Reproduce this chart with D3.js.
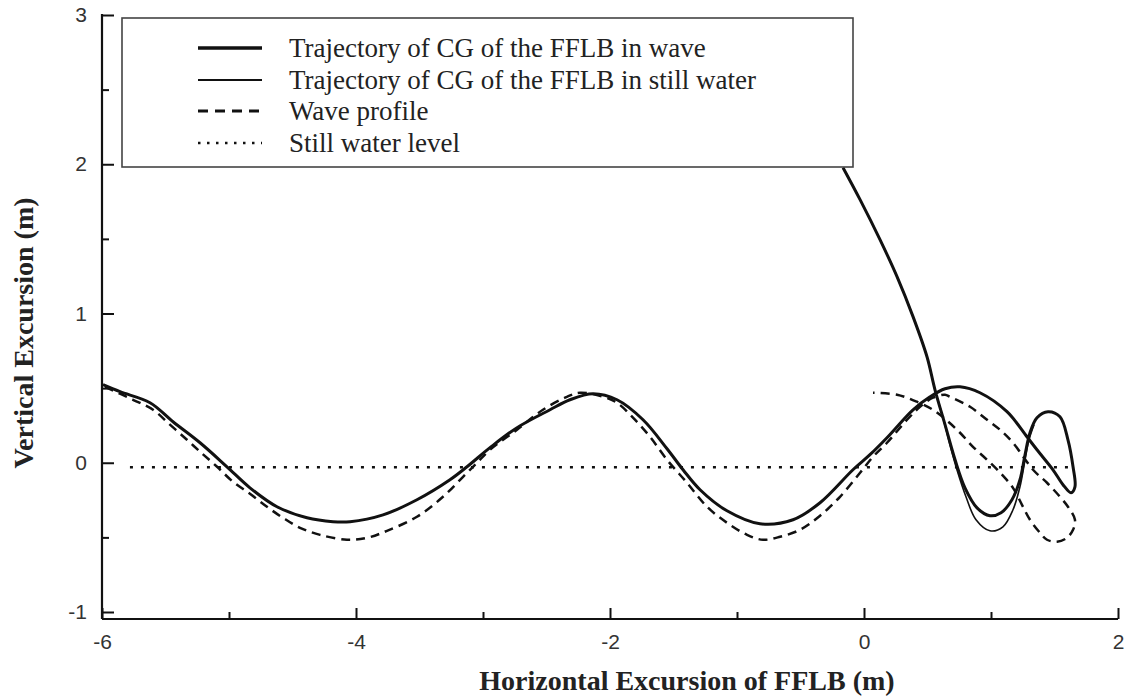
<!DOCTYPE html>
<html>
<head>
<meta charset="utf-8">
<script src="https://cdn.jsdelivr.net/npm/d3@7"></script>
<style>
  html, body { margin: 0; padding: 0; background: #fff; }
  svg { display: block; }
</style>
</head>
<body>
<svg id="chart" width="1126" height="696"></svg>
<script>
// Axis ticks
const xTickValues = [-6, -4, -2, 0, 2];
const xMinorTicks = [-5, -3, -1, 1];
const yTickValues = [-1, 0, 1, 2, 3];
const yMinorTicks = [-0.5, 0.5, 1.5, 2.5];

// Legend entries
const legendLabels = [
  "Trajectory of CG of the FFLB in wave",
  "Trajectory of CG of the FFLB in still water",
  "Wave profile",
  "Still water level"
];

// Still water level (m) and its horizontal extent (m)
const stillWaterLevel = -0.03;
const stillWaterExtent = [-5.78, 1.62];

// Trajectory of the CG in waves: [horizontal, vertical] (m), in time order
const trajectoryInWave = [
  [-0.165, 1.977], [-0.031, 1.763], [0.126, 1.495], [0.260, 1.247], [0.386, 0.979],
  [0.496, 0.710], [0.559, 0.489], [0.638, 0.255], [0.717, 0.020], [0.795, -0.168],
  [0.890, -0.302], [0.992, -0.355], [1.079, -0.335], [1.165, -0.248], [1.228, -0.114],
  [1.268, 0.054], [1.307, 0.201], [1.362, 0.302], [1.449, 0.342], [1.543, 0.308],
  [1.606, 0.154], [1.646, -0.027], [1.661, -0.161], [1.630, -0.201], [1.567, -0.147],
  [1.488, -0.047], [1.362, 0.087], [1.283, 0.174], [1.126, 0.342], [0.913, 0.469],
  [0.756, 0.509], [0.638, 0.496], [0.520, 0.442], [0.386, 0.355], [0.181, 0.168],
  [0.047, 0.054], [-0.087, -0.047], [-0.346, -0.268], [-0.559, -0.382], [-0.819, -0.409],
  [-1.079, -0.322], [-1.291, -0.181], [-1.425, -0.047], [-1.551, 0.094], [-1.740, 0.288],
  [-1.945, 0.422], [-2.134, 0.462], [-2.315, 0.422], [-2.472, 0.355], [-2.732, 0.235],
  [-2.945, 0.101], [-3.126, -0.027], [-3.260, -0.114], [-3.520, -0.248], [-3.787, -0.349],
  [-4.047, -0.395], [-4.181, -0.395], [-4.386, -0.369], [-4.622, -0.295], [-4.835, -0.168],
  [-5.016, -0.027], [-5.228, 0.134], [-5.441, 0.275], [-5.622, 0.402], [-5.858, 0.476],
  [-5.992, 0.523]
];

// Trajectory of the CG in still water: [horizontal, vertical] (m)
const trajectoryStillWater = [
  [-0.165, 1.977], [-0.031, 1.763], [0.126, 1.495], [0.260, 1.247], [0.386, 0.979],
  [0.496, 0.710], [0.559, 0.489], [0.622, 0.302], [0.677, 0.121], [0.732, -0.047],
  [0.803, -0.228], [0.882, -0.382], [0.992, -0.456], [1.094, -0.429], [1.173, -0.315],
  [1.228, -0.161], [1.268, 0.020], [1.299, 0.154], [1.339, 0.255]
];

// Wave profile: [horizontal, vertical] (m)
const waveProfile = [
  [-5.976, 0.509], [-5.756, 0.422], [-5.598, 0.355], [-5.465, 0.255], [-5.331, 0.154],
  [-5.228, 0.074], [-5.094, -0.027], [-4.969, -0.127], [-4.835, -0.208], [-4.701, -0.295],
  [-4.575, -0.369], [-4.441, -0.436], [-4.283, -0.483], [-4.071, -0.516], [-3.913, -0.503],
  [-3.756, -0.456], [-3.520, -0.362], [-3.315, -0.228], [-3.157, -0.094], [-3.047, 0.000],
  [-2.945, 0.087], [-2.732, 0.221], [-2.528, 0.355], [-2.339, 0.442], [-2.236, 0.469],
  [-2.055, 0.442], [-1.945, 0.402], [-1.819, 0.302], [-1.685, 0.174], [-1.551, 0.020],
  [-1.394, -0.134], [-1.236, -0.295], [-1.079, -0.402], [-0.921, -0.483], [-0.795, -0.516],
  [-0.661, -0.496], [-0.504, -0.449], [-0.346, -0.355], [-0.189, -0.228], [-0.031, -0.067],
  [0.071, 0.040], [0.181, 0.134], [0.339, 0.288], [0.441, 0.375], [0.543, 0.436],
  [0.638, 0.456], [0.677, 0.442], [0.835, 0.375], [0.969, 0.288], [1.071, 0.221],
  [1.173, 0.134], [1.331, -0.047], [1.441, -0.134], [1.543, -0.228], [1.606, -0.295],
  [1.661, -0.382], [1.646, -0.449], [1.598, -0.503], [1.520, -0.529], [1.441, -0.516],
  [1.386, -0.469], [1.307, -0.382], [1.244, -0.282], [1.173, -0.168], [1.087, -0.080],
  [0.969, 0.020], [0.858, 0.107], [0.756, 0.201], [0.654, 0.282], [0.543, 0.355],
  [0.417, 0.409], [0.260, 0.456], [0.071, 0.469]
];

const svg = d3.select("#chart");
const ink = "#111";

const x = d3.scaleLinear().domain([-6, 2]).range([102, 1118]);
const y = d3.scaleLinear().domain([-1, 3]).range([612, 15]);
const xAxisY = 619;

const tickFont = "'Liberation Sans', Arial, sans-serif";
const serifFont = "'Liberation Serif', 'Times New Roman', serif";

// ---- Axes ----
const xAxis = svg.append("g")
  .attr("transform", `translate(0,${xAxisY})`)
  .call(d3.axisBottom(x).tickValues(xTickValues).tickSizeInner(-11).tickSizeOuter(0)
    .tickPadding(15).tickFormat(d => String(d)));
svg.append("g")
  .attr("transform", `translate(0,${xAxisY})`)
  .call(d3.axisBottom(x).tickValues(xMinorTicks).tickSizeInner(-7).tickSizeOuter(0).tickFormat(""))
  .call(g => g.select(".domain").remove());

const yAxis = svg.append("g")
  .attr("transform", `translate(${x(-6)},0)`)
  .call(d3.axisLeft(y).tickValues(yTickValues).tickSizeInner(-12).tickSizeOuter(0)
    .tickPadding(15).tickFormat(d => String(d)));
svg.append("g")
  .attr("transform", `translate(${x(-6)},0)`)
  .call(d3.axisLeft(y).tickValues(yMinorTicks).tickSizeInner(-7).tickSizeOuter(0).tickFormat(""))
  .call(g => g.select(".domain").remove());

xAxis.select(".domain").remove();
yAxis.select(".domain").remove();

svg.selectAll(".tick line").attr("stroke", ink).attr("stroke-width", 2);
svg.selectAll(".tick text")
  .attr("font-family", tickFont).attr("font-size", 21).attr("fill", "#333");

// Axis lines
svg.append("line")
  .attr("x1", x(-6)).attr("x2", x(-6)).attr("y1", y(3) - 1).attr("y2", xAxisY)
  .attr("stroke", ink).attr("stroke-width", 2.2);
svg.append("line")
  .attr("x1", x(-6)).attr("x2", x(2)).attr("y1", xAxisY).attr("y2", xAxisY)
  .attr("stroke", ink).attr("stroke-width", 2.2);

// Axis titles
svg.append("text")
  .attr("x", 687).attr("y", 690)
  .attr("text-anchor", "middle")
  .attr("font-family", serifFont).attr("font-weight", "bold").attr("font-size", 28)
  .attr("fill", "#222")
  .text("Horizontal Excursion of FFLB (m)");
svg.append("text")
  .attr("transform", "translate(33,333) rotate(-90)")
  .attr("text-anchor", "middle")
  .attr("font-family", serifFont).attr("font-weight", "bold").attr("font-size", 28)
  .attr("fill", "#222")
  .text("Vertical Excursion (m)");

// ---- Series ----
const line = d3.line()
  .x(d => x(d[0])).y(d => y(d[1]))
  .curve(d3.curveCatmullRom.alpha(0.5));

const plot = svg.append("g").attr("fill", "none").attr("stroke", ink);

plot.append("line")
  .attr("x1", x(stillWaterExtent[0])).attr("x2", x(stillWaterExtent[1]))
  .attr("y1", y(stillWaterLevel)).attr("y2", y(stillWaterLevel))
  .attr("stroke-width", 2.5).attr("stroke-dasharray", "3,8");

plot.append("path").attr("d", line(waveProfile))
  .attr("stroke-width", 2.5).attr("stroke-dasharray", "9,6");

plot.append("path").attr("d", line(trajectoryStillWater))
  .attr("stroke-width", 1.6);

plot.append("path").attr("d", line(trajectoryInWave))
  .attr("stroke-width", 3);

// ---- Legend ----
const legend = svg.append("g");
legend.append("rect")
  .attr("x", 122).attr("y", 18).attr("width", 731).attr("height", 149)
  .attr("fill", "#fff").attr("stroke", "#444").attr("stroke-width", 1.6);

const legendStyles = [
  { width: 3.5, dash: null },
  { width: 1.8, dash: null },
  { width: 3, dash: "10,7" },
  { width: 2.5, dash: "2.5,6.5" }
];
const legendBaselines = [57, 89, 120, 152];

legendLabels.forEach((label, i) => {
  const by = legendBaselines[i];
  legend.append("line")
    .attr("x1", 198).attr("x2", 262).attr("y1", by - 9).attr("y2", by - 9)
    .attr("stroke", ink).attr("stroke-width", legendStyles[i].width)
    .attr("stroke-dasharray", legendStyles[i].dash);
  legend.append("text")
    .attr("x", 289).attr("y", by)
    .attr("font-family", serifFont).attr("font-size", 27).attr("fill", "#222")
    .text(label);
});
</script>
</body>
</html>
